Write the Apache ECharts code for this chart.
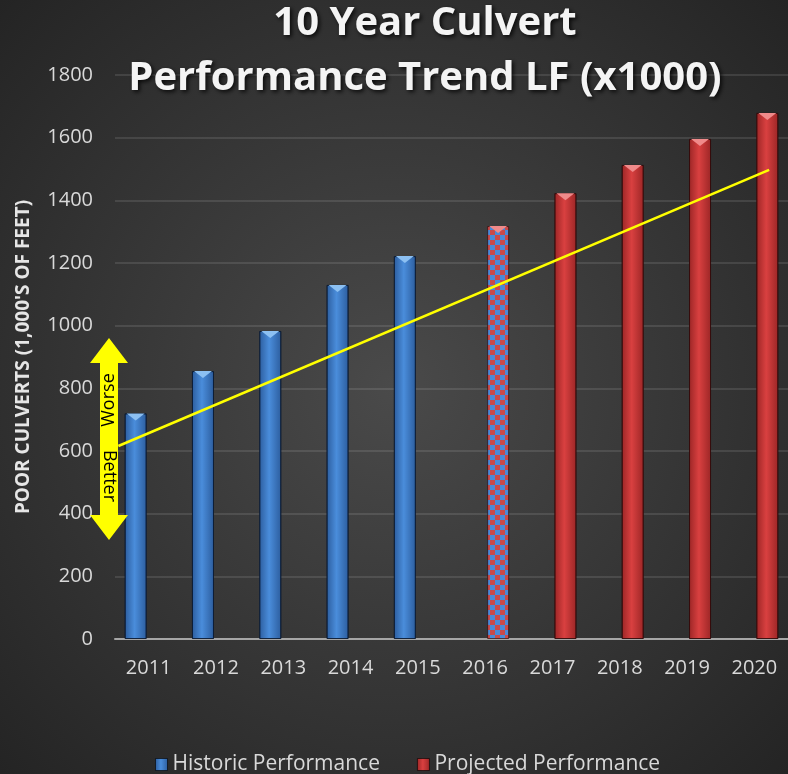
<!DOCTYPE html>
<html>
<head>
<meta charset="utf-8">
<title>10 Year Culvert Performance Trend</title>
<script src="https://cdn.jsdelivr.net/npm/echarts/dist/echarts.min.js"></script>
<style>
    html, body { margin: 0; padding: 0; background: #2b2b2b; }
    .chart { width: 788px; height: 774px; }
</style>
</head>
<body>
<div class="chart"></div>
<script>
// data
var years = ['2011', '2012', '2013', '2014', '2015', '2016', '2017', '2018', '2019', '2020'];
var historic = [720, 855, 983, 1130, 1222, null, null, null, null, null];
var projected = [null, null, null, null, null, 1318, 1423, 1513, 1596, 1679];
// trend line end points (category index, value)
var trendX = [-0.45, 9.22];
var trendY = [616, 1497];
// y axis ticks
var yMin = 0, yMax = 1800, yStep = 200;

var chart = echarts.init(document.querySelector('.chart'));

// checkered fill for the 2016 bar
var tile = document.createElement('canvas');
tile.width = 10;
tile.height = 10;
var ctx = tile.getContext('2d');
ctx.fillStyle = '#4a8ad8';
ctx.fillRect(0, 0, 10, 10);
ctx.fillStyle = '#c94a4a';
ctx.fillRect(0, 0, 5, 5);
ctx.fillRect(5, 5, 5, 5);

function barGradient(edge, mid) {
    return new echarts.graphic.LinearGradient(0, 0, 1, 0, [
        { offset: 0, color: edge },
        { offset: 0.45, color: mid },
        { offset: 1, color: edge }
    ]);
}

var projectedData = projected.map(function (v, i) {
    if (years[i] === '2016') {
        return { value: v, itemStyle: { color: { image: tile, repeat: 'repeat' } } };
    }
    return v;
});

// light wedge on top of every bar
var topShape = 'path://M0,0 L10,0 L5,3.5 Z';
function topSeries(name, data, color) {
    return {
        name: name,
        type: 'pictorialBar',
        data: data,
        barWidth: 22,
        barGap: '18%',
        symbol: topShape,
        symbolSize: [18, 7],
        symbolPosition: 'end',
        symbolOffset: [0, 0],
        itemStyle: { color: color },
        silent: true,
        z: 3
    };
}

var option = {
    backgroundColor: new echarts.graphic.RadialGradient(0.5, 0.5, 0.75, [
        { offset: 0, color: '#4a4a4a' },
        { offset: 1, color: '#222222' }
    ]),
    title: {
        text: '10 Year Culvert\nPerformance Trend LF (x1000)',
        left: 425,
        top: -4,
        padding: 0,
        textAlign: 'center',
        textStyle: {
            fontFamily: 'Open Sans',
            fontWeight: 'bold',
            fontSize: 40,
            lineHeight: 55,
            color: '#f4f4f4',
            textShadowColor: 'rgba(0,0,0,0.8)',
            textShadowBlur: 4,
            textShadowOffsetX: 2,
            textShadowOffsetY: 2
        }
    },
    legend: {
        left: 150,
        top: 749,
        icon: 'rect',
        itemWidth: 12,
        itemHeight: 12,
        itemGap: 37,
        itemStyle: { borderColor: 'rgba(0,0,0,0.6)', borderWidth: 1 },
        textStyle: { color: '#d9d9d9', fontSize: 21, fontFamily: 'Open Sans' },
        data: ['Historic Performance', 'Projected Performance']
    },
    grid: {
        left: 115,
        right: -7,
        top: 75,
        bottom: 135
    },
    xAxis: [{
        type: 'category',
        data: years,
        axisLine: { lineStyle: { color: '#a6a6a6', width: 2 } },
        axisTick: { show: false },
        axisLabel: { color: '#d9d9d9', fontSize: 20, fontFamily: 'Open Sans', margin: 19 }
    }, {
        // hidden value axis for the trend line
        type: 'value',
        min: -0.5,
        max: 9.5,
        show: false
    }],
    yAxis: {
        type: 'value',
        min: yMin,
        max: yMax,
        interval: yStep,
        name: "POOR CULVERTS (1,000'S OF FEET)",
        nameLocation: 'middle',
        nameGap: 82,
        nameTextStyle: { color: '#e6e6e6', fontSize: 19, fontWeight: 'bold', fontFamily: 'Open Sans' },
        axisLine: { show: false },
        axisTick: { show: false },
        axisLabel: {
            color: '#d9d9d9',
            fontSize: 20,
            fontFamily: 'Open Sans',
            margin: 22,
            formatter: function (v) { return String(v); }
        },
        splitLine: { lineStyle: { color: 'rgba(255,255,255,0.14)', width: 1.5 } }
    },
    series: [
        {
            name: 'Historic Performance',
            type: 'bar',
            data: historic,
            barWidth: 22,
            barGap: '18%',
            itemStyle: {
                color: barGradient('#2c5d9e', '#4a8ddb'),
                borderColor: 'rgba(10,25,50,0.7)',
                borderWidth: 1
            }
        },
        {
            name: 'Projected Performance',
            type: 'bar',
            data: projectedData,
            barWidth: 22,
            itemStyle: {
                color: barGradient('#9c2626', '#d94040'),
                borderColor: 'rgba(50,10,10,0.7)',
                borderWidth: 1
            }
        },
        topSeries('historic top', historic, '#8cc0f2'),
        topSeries('projected top', projected, '#f08a8a'),
        {
            name: 'Trend',
            type: 'line',
            xAxisIndex: 1,
            data: trendX.map(function (x, i) { return [x, trendY[i]]; }),
            symbol: 'none',
            lineStyle: { color: '#ffff00', width: 2.5 },
            z: 5
        }
    ],
    // Worse / Better arrow
    graphic: [
        {
            type: 'polygon',
            shape: {
                points: [[109, 338], [128, 363], [118, 363], [118, 515], [128, 515],
                         [109, 540], [90, 515], [100, 515], [100, 363], [90, 363]]
            },
            style: { fill: '#ffff00' },
            z: 10
        },
        {
            type: 'text',
            x: 109,
            y: 400,
            rotation: Math.PI / 2,
            style: { text: 'Worse', fill: '#000', fontSize: 18, fontFamily: 'Open Sans', align: 'center', verticalAlign: 'middle' },
            z: 11
        },
        {
            type: 'text',
            x: 109,
            y: 476,
            rotation: -Math.PI / 2,
            style: { text: 'Better', fill: '#000', fontSize: 18, fontFamily: 'Open Sans', align: 'center', verticalAlign: 'middle' },
            z: 11
        }
    ]
};

chart.setOption(option);
</script>
</body>
</html>
